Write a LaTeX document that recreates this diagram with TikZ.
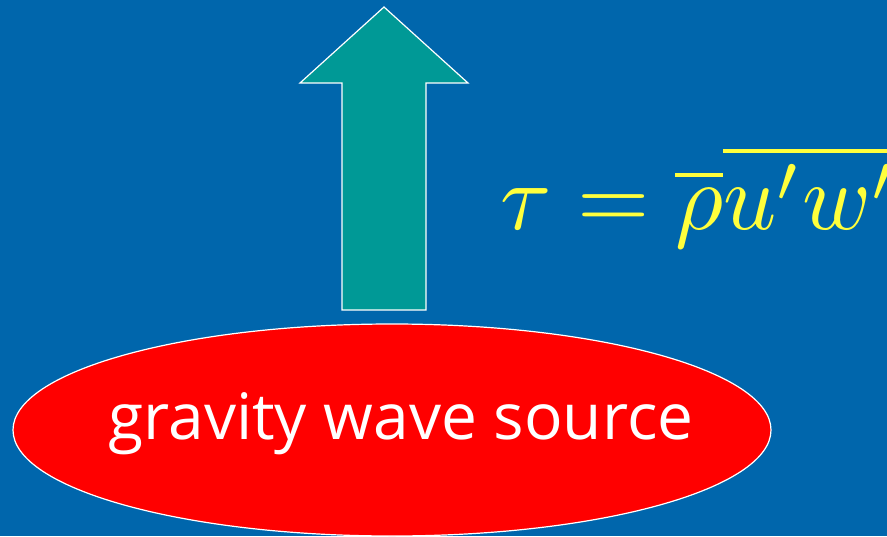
\documentclass[tikz,border=0pt]{standalone}
\usepackage{amsmath}
\usepackage{graphicx}
\usepackage{fontspec}
\newfontfamily\labelfont{Open Sans}
\usepackage{xcolor}
\usepackage{tikz}
\usetikzlibrary{shapes.geometric}
\definecolor{slideblue}{RGB}{0,102,172}
\definecolor{waveteal}{RGB}{0,153,150}
\definecolor{eqyellow}{RGB}{255,255,60}

\begin{document}
\begin{tikzpicture}[x=1pt, y=-1pt,
  source/.style={ellipse, draw=white, line width=1.2pt, fill=red, minimum width=758pt, minimum height=212pt, inner sep=0pt},
  flux/.style={draw=white, line width=1.2pt, fill=waveteal, line join=miter},
  eq/.style={text=eqyellow, inner sep=0pt}
]
  \fill[slideblue] (0,0) rectangle (887,536);
  \useasboundingbox (0,0) rectangle (887,536);
  \clip (0,0) rectangle (887,536);

  \node[source] (src) at (392,430) {};
  \node[text=white, font=\labelfont\fontsize{64}{70}\selectfont] (srclabel) at (401,424) {gravity wave source};

  % upward flux arrow
  \draw[flux] (342,310) -- (342,83) -- (300,83) -- (384,7) -- (468,83) -- (426,83) -- (426,310) -- cycle;

  \node[eq, anchor=base west] (tau) at (500,229) {\scalebox{9.3}[9.5]{$\tau = \overline{\rho}\overline{u'w'}$}};
\end{tikzpicture}
\end{document}
